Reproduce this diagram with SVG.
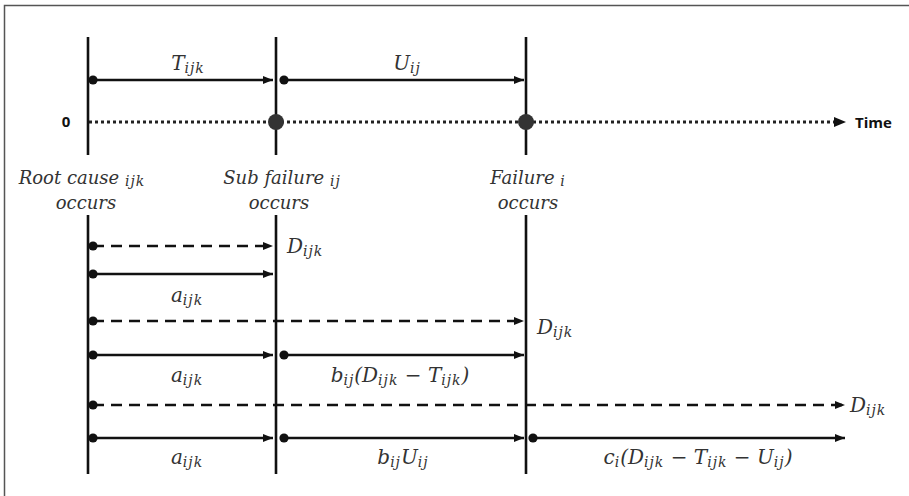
<svg xmlns="http://www.w3.org/2000/svg" width="909" height="496" viewBox="0 0 909 496">
<style>
.v{stroke:#111;stroke-width:2.6;fill:none}
.s{stroke:#111;stroke-width:2.4;fill:none;marker-start:url(#dot);marker-end:url(#arr)}
.d{stroke:#111;stroke-width:2.6;fill:none;stroke-dasharray:11 7;marker-start:url(#dot);marker-end:url(#arr)}
.m{font-family:"DejaVu Serif","Liberation Serif",serif;font-style:italic;font-size:20px;fill:#333}
.sub{font-size:14px;letter-spacing:1px}
.ev{font-family:"DejaVu Serif","Liberation Serif",serif;font-style:italic;font-size:18px;fill:#333;text-anchor:middle}
.b{font-family:"Open Sans","DejaVu Sans",sans-serif;font-weight:bold;font-size:15px;fill:#111}
</style>
<defs>
<marker id="arr" viewBox="0 0 10 8" refX="10" refY="4" markerWidth="10" markerHeight="8" markerUnits="userSpaceOnUse" orient="auto"><path d="M0,0 L10,4 L0,8 Z" fill="#111"/></marker>
<marker id="dot" viewBox="0 0 10 10" refX="5" refY="5" markerWidth="10" markerHeight="10" markerUnits="userSpaceOnUse"><circle cx="5" cy="5" r="4.6" fill="#111"/></marker>
</defs>
<rect x="4.5" y="5.5" width="912" height="500" fill="#fff" stroke="#555" stroke-width="1.5"/>

<g id="axis">
<line x1="89" y1="122" x2="836" y2="122" stroke="#222" stroke-width="3" stroke-dasharray="3 3"/>
<path d="M834,117 L846,122 L834,127 Z" fill="#111"/>
<text x="66" y="127" class="b" text-anchor="middle">0</text>
<text x="855" y="128" class="b">Time</text>
</g>

<g id="root-cause">
<line class="v" x1="88" y1="37" x2="88" y2="155"/>
<line class="v" x1="88" y1="215" x2="88" y2="474"/>
<text class="ev" x="82" y="184">Root cause <tspan class="sub" dy="2">ijk</tspan></text>
<text class="ev" x="86" y="209">occurs</text>
</g>

<g id="sub-failure">
<line class="v" x1="276" y1="37" x2="276" y2="155"/>
<line class="v" x1="276" y1="215" x2="276" y2="474"/>
<circle cx="276" cy="122" r="8" fill="#333"/>
<text class="ev" x="282" y="184">Sub failure <tspan class="sub" dy="2">ij</tspan></text>
<text class="ev" x="279" y="209">occurs</text>
</g>

<g id="failure">
<line class="v" x1="526" y1="37" x2="526" y2="155"/>
<line class="v" x1="526" y1="215" x2="526" y2="474"/>
<circle cx="526" cy="122" r="8" fill="#333"/>
<text class="ev" x="528" y="184">Failure <tspan class="sub" dy="2">i</tspan></text>
<text class="ev" x="528" y="209">occurs</text>
</g>

<g id="connectors">
<line class="s" x1="93" y1="80" x2="273" y2="80"/>
<line class="s" x1="284" y1="80" x2="524" y2="80"/>
<line class="d" x1="93" y1="246" x2="273" y2="246"/>
<line class="s" x1="93" y1="274" x2="273" y2="274"/>
<line class="d" x1="93" y1="321" x2="524" y2="321"/>
<line class="s" x1="93" y1="355" x2="273" y2="355"/>
<line class="s" x1="284" y1="355" x2="524" y2="355"/>
<line class="d" x1="93" y1="405" x2="845" y2="405"/>
<line class="s" x1="93" y1="438" x2="273" y2="438"/>
<line class="s" x1="284" y1="438" x2="524" y2="438"/>
<line class="s" x1="533" y1="438" x2="845" y2="438"/>
</g>

<g id="labels">
<text class="m" x="188" y="70" text-anchor="middle">T<tspan class="sub" dy="3">ijk</tspan></text>
<text class="m" x="407" y="70" text-anchor="middle">U<tspan class="sub" dy="3">ij</tspan></text>
<text class="m" x="287" y="253">D<tspan class="sub" dy="3">ijk</tspan></text>
<text class="m" x="187" y="302" text-anchor="middle">a<tspan class="sub" dy="3">ijk</tspan></text>
<text class="m" x="537" y="334">D<tspan class="sub" dy="3">ijk</tspan></text>
<text class="m" x="187" y="382" text-anchor="middle">a<tspan class="sub" dy="3">ijk</tspan></text>
<text class="m" x="400" y="382" text-anchor="middle">b<tspan class="sub" dy="3">ij</tspan><tspan dy="-3">(D</tspan><tspan class="sub" dy="3">ijk</tspan><tspan dy="-3" font-style="normal"> − </tspan><tspan>T</tspan><tspan class="sub" dy="3">ijk</tspan><tspan dy="-3">)</tspan></text>
<text class="m" x="850" y="412">D<tspan class="sub" dy="3">ijk</tspan></text>
<text class="m" x="187" y="464" text-anchor="middle">a<tspan class="sub" dy="3">ijk</tspan></text>
<text class="m" x="403" y="464" text-anchor="middle">b<tspan class="sub" dy="3">ij</tspan><tspan dy="-3">U</tspan><tspan class="sub" dy="3">ij</tspan></text>
<text class="m" x="698" y="464" text-anchor="middle">c<tspan class="sub" dy="3">i</tspan><tspan dy="-3">(D</tspan><tspan class="sub" dy="3">ijk</tspan><tspan dy="-3" font-style="normal"> − </tspan><tspan>T</tspan><tspan class="sub" dy="3">ijk</tspan><tspan dy="-3" font-style="normal"> − </tspan><tspan>U</tspan><tspan class="sub" dy="3">ij</tspan><tspan dy="-3">)</tspan></text>
</g>
</svg>
